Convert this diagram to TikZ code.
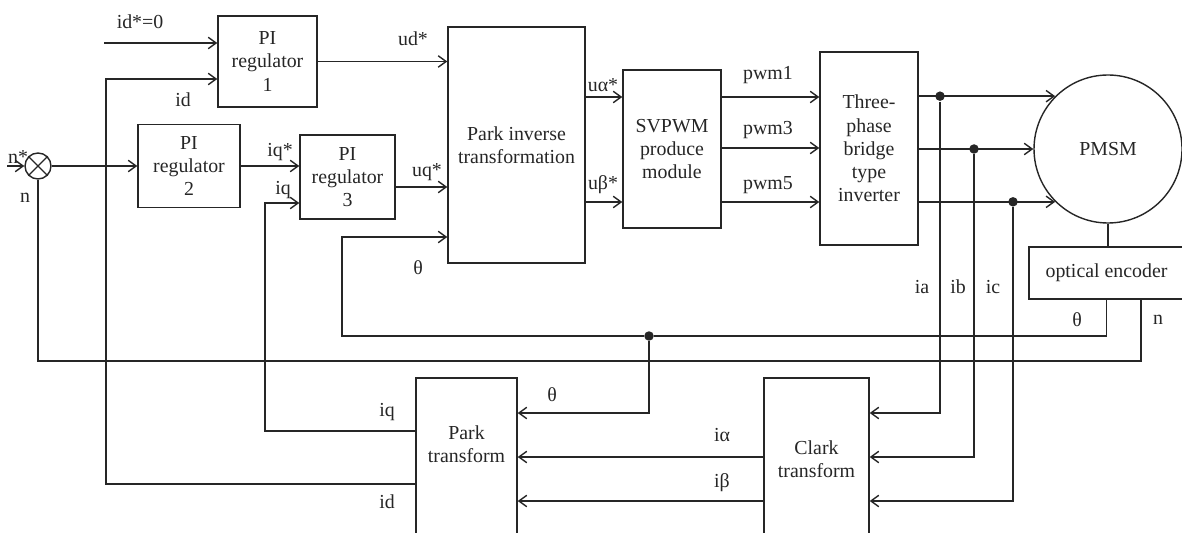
\documentclass[tikz,border=0pt]{standalone}
\usepackage{fontspec}
\setmainfont{Liberation Serif}
\usetikzlibrary{arrows.meta}

\begin{document}
\begin{tikzpicture}[x=0.02cm,y=-0.02cm,
		block/.style 2 args={draw,align=center,inner sep=0pt,minimum width=#1*0.02cm,minimum height=#2*0.02cm},
		dot/.style={circle,fill,inner sep=0pt,minimum size=0.19cm},
		every node/.style={font=\fontsize{11.3}{13.2}\selectfont},
		color=black!85,line width=0.8pt,
		>={Straight Barb[length=4.5pt,width=6.5pt]}]
		
		\useasboundingbox (0,0) rectangle (1182,533);
		\clip (0,0) rectangle (1182,533);
		
		%blocks
		\node[block={99}{91}] (pi1) at (267.5,61.5) {PI\\regulator\\1};
		\node[block={102}{83}] (pi2) at (189,166) {PI\\regulator\\2};
		\node[block={95}{84}] (pi3) at (347.5,177) {PI\\regulator\\3};
		\node[block={137}{236}] (pinv) at (516.5,145) {Park inverse\\transformation};
		\node[block={98}{158}] (svpwm) at (672,149) {SVPWM\\produce\\module};
		\node[block={98}{193}] (inv) at (869,148.5) {Three-\\phase\\bridge\\type\\inverter};
		\node[draw,circle,inner sep=0pt,minimum size=148*0.02cm] (pmsm) at (1108,149) {PMSM};
		\node[block={155}{52}] (enc) at (1106.5,273) {optical encoder};
		\node[block={101}{162}] (park) at (466.5,459) {};
		\node[align=center] (parktxt) at (466.5,444) {Park\\transform};
		\node[block={105}{162}] (clark) at (816.5,459) {Clark\\transform};
		
		%summing point
		\node[draw,circle,inner sep=0pt,minimum size=26*0.02cm] (sum) at (38,166) {};
		\draw (sum.45) -- (sum.225) (sum.135) -- (sum.315);
		
		%references
		\coordinate (idref) at (104,43);
		\coordinate (nref) at (7,166);
		\draw[->] (idref) -- (idref -| pi1.west);
		\draw[->] (nref) -- (sum.west);
		\draw[->] (sum.east) -- (pi2.west);
		\draw[->] (pi1.east) -- (pi1.east -| pinv.west);
		\draw[->] (pi2.east) -- (pi2.east -| pi3.west);
		\draw[->] (pi3.east |- 0,187) -- (pinv.west |- 0,187);
		
		%modulation
		\foreach \y in {97,202}
		\draw[->] (pinv.east |- 0,\y) -- (svpwm.west |- 0,\y);
		\foreach \y in {97,148,202}
		\draw[->] (svpwm.east |- 0,\y) -- (inv.west |- 0,\y);
		
		%motor
		\draw[->] (inv.east |- pmsm.135) -- (pmsm.135);
		\draw[->] (inv.east |- pmsm.west) -- (pmsm.west);
		\draw[->] (inv.east |- pmsm.225) -- (pmsm.225);
		\draw (pmsm.south) -- (pmsm.south |- enc.north);
		
		\node[dot] (da) at (940,0 |- pmsm.135) {};
		\node[dot] (db) at (974,0 |- pmsm.west) {};
		\node[dot] (dc) at (1013,0 |- pmsm.225) {};
		\node[dot] (dth) at (649,336) {};
		
		%phase currents
		\draw[->] (da) |- (clark.east |- 0,413);
		\draw[->] (db) |- (clark.east |- 0,457);
		\draw[->] (dc) |- (clark.east |- 0,501);
		\draw[->] (clark.west |- 0,457) -- (park.east |- 0,457);
		\draw[->] (clark.west |- 0,501) -- (park.east |- 0,501);
		
		%angle and speed
		\draw (enc.south) |- (dth);
		\draw[->] (dth) -| (342,237) -- (pinv.west |- 0,237);
		\draw[->] (dth) |- (park.east |- 0,413);
		\draw (enc.south -| 1141,0) |- (sum.south |- 0,361) -- (sum.south);
		
		%current feedback
		\draw[->] (park.west |- 0,431) -| (265,203) -- (pi3.west |- 0,203);
		\draw[->] (park.west |- 0,484) -| (106,79) -- (pi1.west |- 0,79);
		
		%labels
		\node (lidref) at (140,22) {id*=0};
		\node (lid) at (183,100) {id};
		\node (lnref) at (18,157) {n*};
		\node (ln) at (25,198) {n};
		\node (liqref) at (280,152) {iq*};
		\node (liq) at (283,190) {iq};
		\node (lud) at (413,39) {ud*};
		\node (luq) at (427,172) {uq*};
		\node (lthinv) at (418,268) {θ};
		\node (lua) at (603,85) {uα*};
		\node (lub) at (603,185) {uβ*};
		\foreach \k/\y in {1/75,3/130,5/185}
		\node (lpwm\k) at (768,\y) {pwm\k};
		\foreach \ph/\x in {a/922,b/958,c/993}
		\node (li\ph) at (\x,287) {i\ph};
		\node (lthenc) at (1077,320) {θ};
		\node (lnenc) at (1158,320) {n};
		\node (lthpark) at (552,395) {θ};
		\node (liqpark) at (387,412) {iq};
		\node (lidpark) at (387,502) {id};
		\node (lialpha) at (722,435) {iα};
		\node (libeta) at (722,483) {iβ};
		
	\end{tikzpicture}
\end{document}
